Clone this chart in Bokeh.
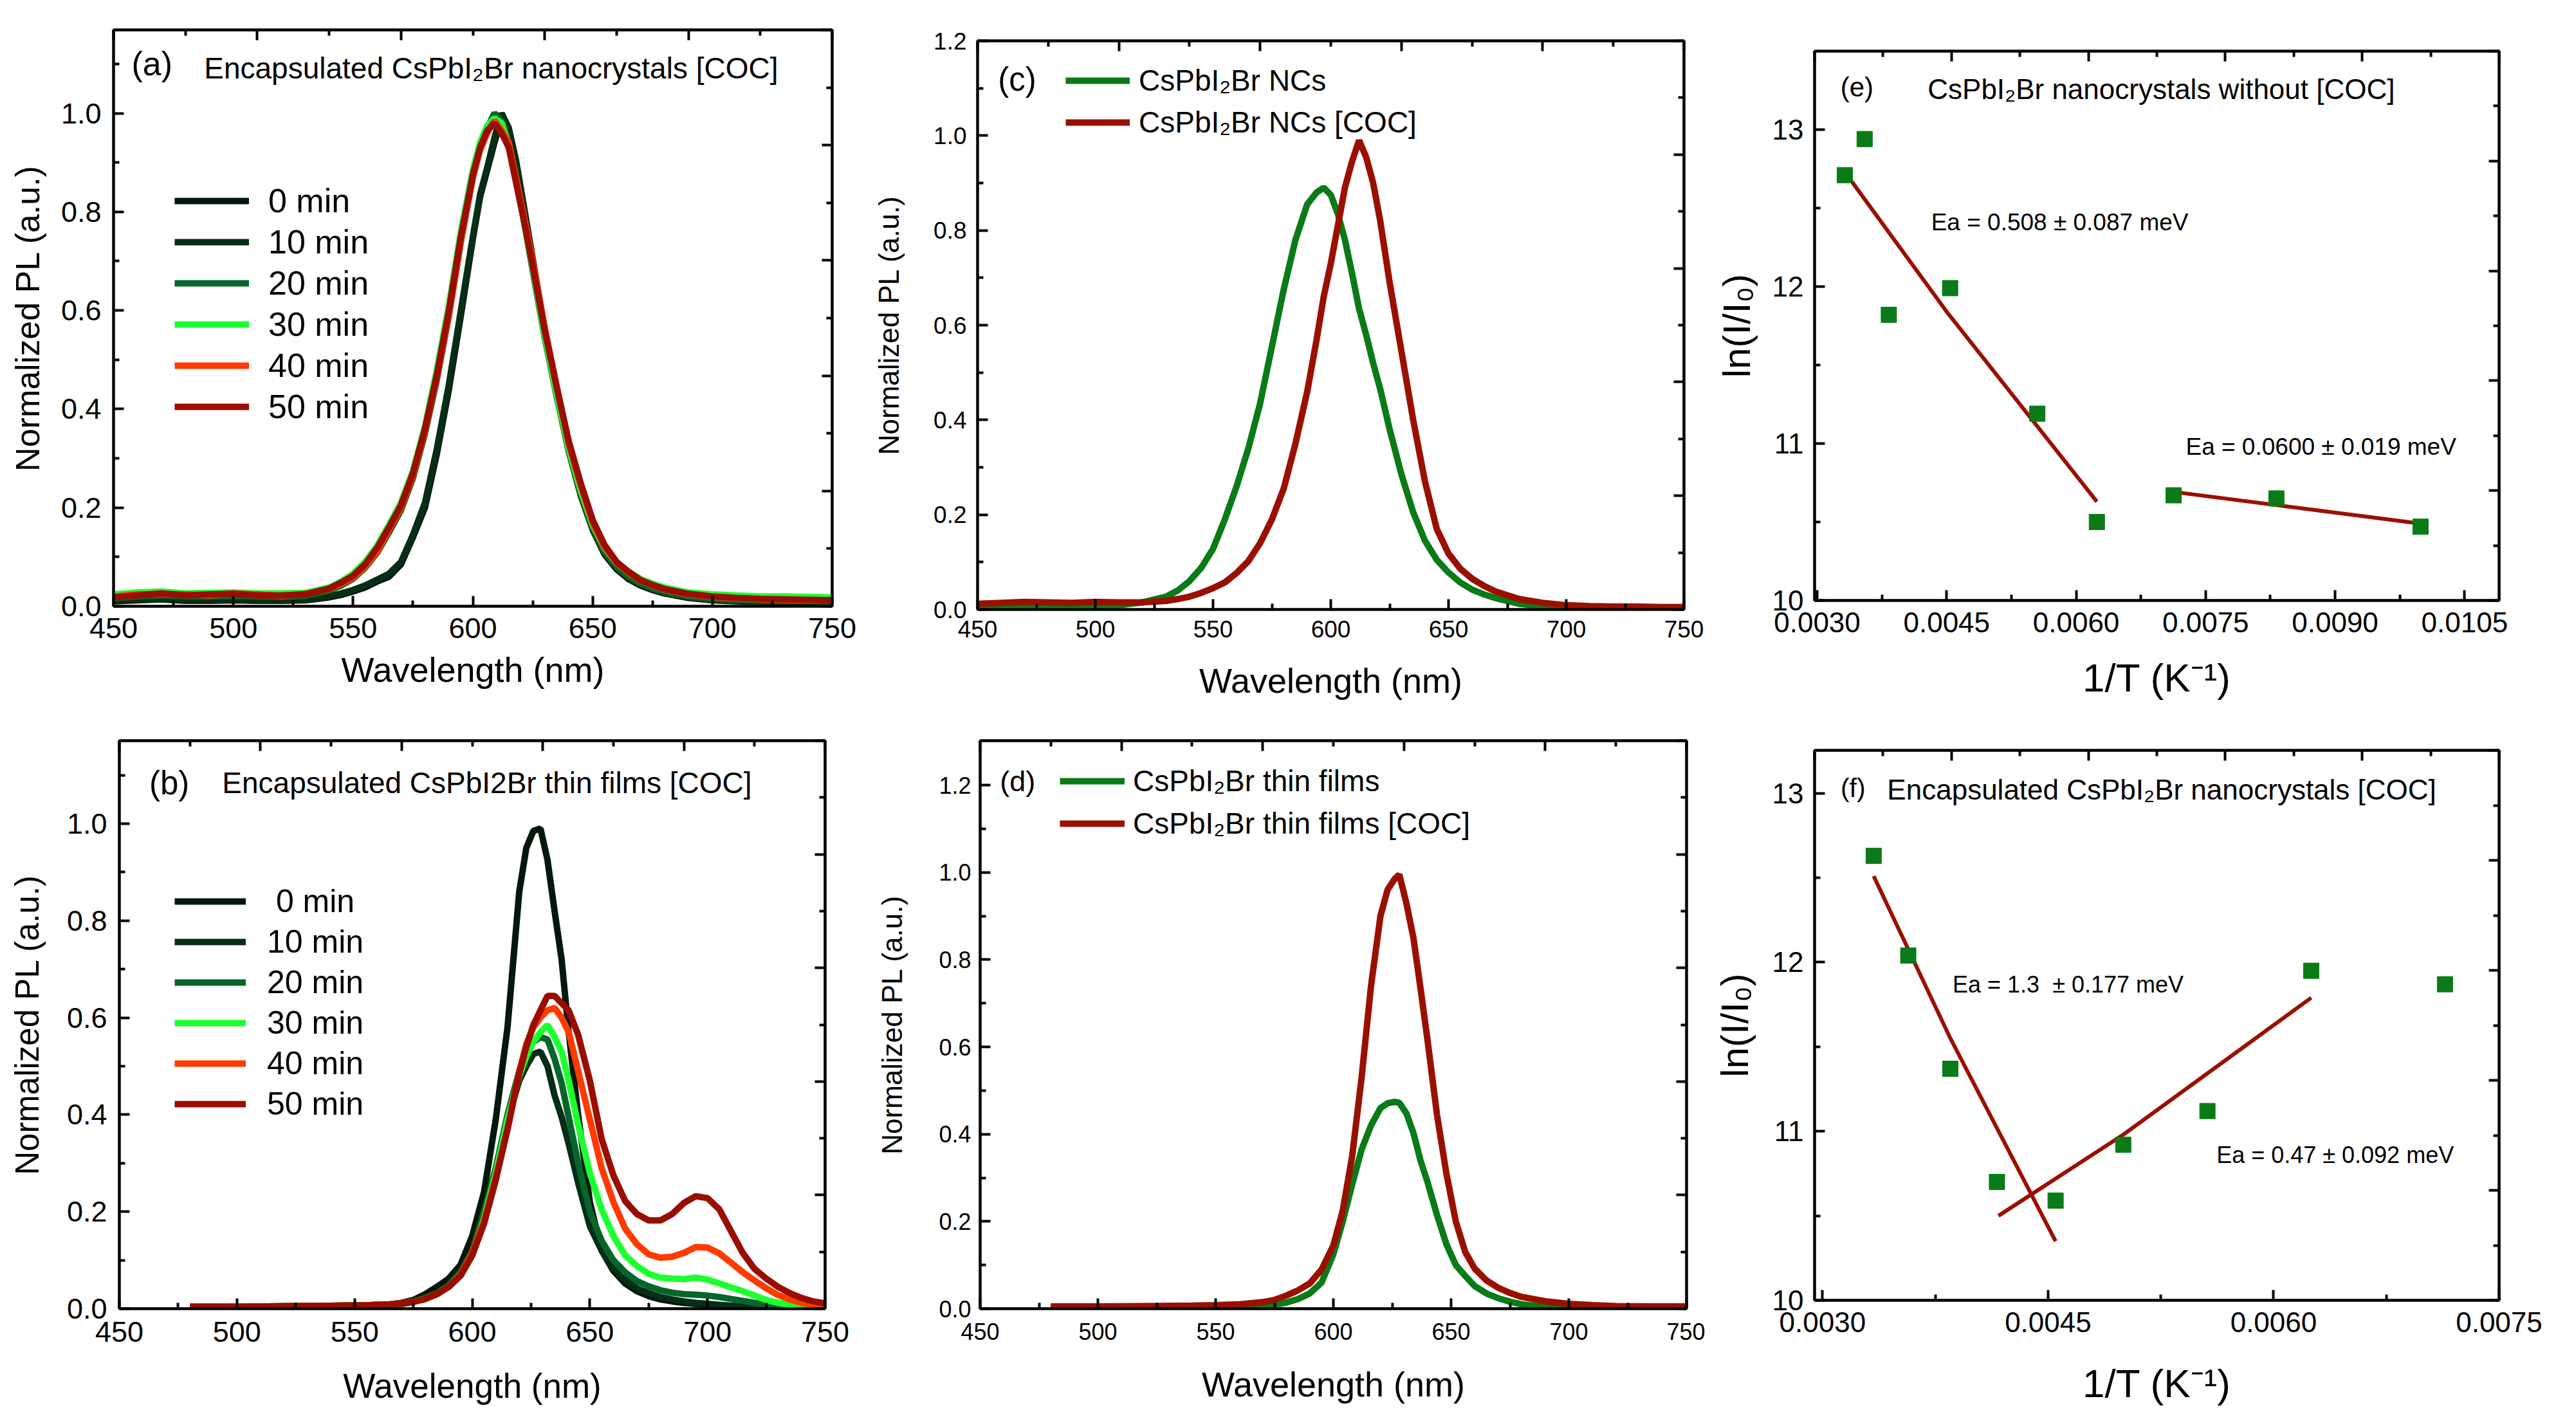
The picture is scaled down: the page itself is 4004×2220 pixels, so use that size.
from bokeh.plotting import figure
from bokeh.models import (Range1d, LinearAxis, FixedTicker, PrintfTickFormatter,
                          CustomJSTickFormatter, Legend, LegendItem, Label)
from bokeh.layouts import row, column
from bokeh.embed import file_html
from bokeh.resources import INLINE

FONT = "Liberation Sans"

# ---------------- data: panel (a) ----------------
wl_a = [450, 460, 470, 480, 490, 500, 510, 520, 530, 540, 545, 550, 555, 560, 565, 570, 575,
        580, 585, 590, 595, 600, 603, 606, 609, 612, 615, 618, 621, 625, 630, 635, 640, 645,
        650, 655, 660, 665, 670, 675, 680, 690, 700, 710, 720, 730, 740, 750]
a_0 = [0.010, 0.012, 0.014, 0.011, 0.011, 0.012, 0.011, 0.011, 0.012, 0.018, 0.023, 0.030, 0.038,
       0.050, 0.060, 0.085, 0.140, 0.200, 0.310, 0.440, 0.590, 0.745, 0.830, 0.885, 0.940, 0.990,
       0.965, 0.900, 0.815, 0.700, 0.555, 0.430, 0.315, 0.225, 0.155, 0.105, 0.075, 0.055, 0.042,
       0.033, 0.026, 0.017, 0.012, 0.010, 0.009, 0.008, 0.008, 0.008]
a_10 = [0.012, 0.014, 0.015, 0.013, 0.013, 0.014, 0.013, 0.012, 0.014, 0.020, 0.026, 0.033, 0.042,
        0.054, 0.066, 0.090, 0.145, 0.210, 0.320, 0.450, 0.600, 0.750, 0.835, 0.890, 0.950, 1.000,
        0.970, 0.905, 0.820, 0.705, 0.560, 0.435, 0.320, 0.230, 0.160, 0.108, 0.078, 0.057, 0.044,
        0.035, 0.028, 0.018, 0.013, 0.011, 0.010, 0.009, 0.009, 0.009]
a_20 = [0.016, 0.020, 0.022, 0.020, 0.020, 0.021, 0.020, 0.019, 0.021, 0.032, 0.042, 0.056, 0.078,
        0.108, 0.150, 0.195, 0.260, 0.350, 0.460, 0.590, 0.740, 0.870, 0.930, 0.970, 1.000, 0.985,
        0.940, 0.870, 0.790, 0.680, 0.545, 0.425, 0.315, 0.228, 0.158, 0.110, 0.080, 0.060, 0.046,
        0.036, 0.029, 0.020, 0.015, 0.013, 0.012, 0.011, 0.011, 0.010]
a_30 = [0.024, 0.028, 0.030, 0.026, 0.027, 0.028, 0.026, 0.026, 0.027, 0.038, 0.050, 0.066, 0.090,
        0.122, 0.165, 0.210, 0.275, 0.365, 0.480, 0.610, 0.760, 0.885, 0.940, 0.975, 0.990, 0.980,
        0.935, 0.865, 0.790, 0.685, 0.550, 0.430, 0.320, 0.235, 0.165, 0.118, 0.088, 0.070, 0.055,
        0.046, 0.038, 0.028, 0.024, 0.022, 0.020, 0.020, 0.019, 0.018]
a_40 = [0.020, 0.024, 0.025, 0.024, 0.022, 0.026, 0.024, 0.021, 0.025, 0.035, 0.045, 0.058, 0.080,
        0.110, 0.155, 0.200, 0.265, 0.355, 0.465, 0.590, 0.740, 0.870, 0.925, 0.960, 0.985, 0.965,
        0.940, 0.870, 0.800, 0.700, 0.565, 0.445, 0.330, 0.245, 0.170, 0.120, 0.088, 0.068, 0.052,
        0.042, 0.034, 0.024, 0.019, 0.016, 0.014, 0.013, 0.012, 0.012]
a_50 = [0.018, 0.022, 0.026, 0.022, 0.024, 0.025, 0.022, 0.022, 0.024, 0.036, 0.048, 0.062, 0.085,
        0.118, 0.160, 0.205, 0.270, 0.360, 0.470, 0.600, 0.750, 0.875, 0.930, 0.965, 0.980, 0.960,
        0.930, 0.860, 0.790, 0.690, 0.560, 0.445, 0.335, 0.250, 0.175, 0.124, 0.090, 0.070, 0.053,
        0.043, 0.035, 0.025, 0.020, 0.017, 0.015, 0.014, 0.013, 0.012]

# ---------------- data: panel (b) ----------------
wl_b = [480, 500, 520, 540, 555, 565, 570, 575, 580, 585, 590, 595, 600, 605, 610, 615, 620,
        623, 626, 629, 632, 635, 638, 641, 645, 650, 655, 660, 665, 670, 675, 680, 685, 690,
        695, 700, 705, 710, 715, 720, 725, 730, 735, 740, 745, 750]
b_0 = [0.004, 0.004, 0.005, 0.006, 0.007, 0.009, 0.012, 0.018, 0.030, 0.045, 0.062, 0.090, 0.150,
       0.240, 0.390, 0.580, 0.860, 0.950, 0.985, 0.990, 0.925, 0.820, 0.720, 0.570, 0.400, 0.220,
       0.120, 0.078, 0.052, 0.036, 0.026, 0.019, 0.015, 0.012, 0.010, 0.008, 0.007, 0.006, 0.005,
       0.005, 0.004, 0.004, 0.004, 0.003, 0.003, 0.003]
b_10 = [0.004, 0.004, 0.005, 0.005, 0.006, 0.008, 0.010, 0.014, 0.022, 0.032, 0.045, 0.068, 0.110,
        0.180, 0.280, 0.390, 0.470, 0.500, 0.525, 0.530, 0.500, 0.440, 0.395, 0.340, 0.260, 0.170,
        0.120, 0.083, 0.060, 0.042, 0.032, 0.024, 0.019, 0.015, 0.012, 0.010, 0.008, 0.006, 0.005,
        0.005, 0.004, 0.004, 0.003, 0.003, 0.003, 0.003]
b_20 = [0.004, 0.004, 0.005, 0.006, 0.007, 0.009, 0.011, 0.015, 0.022, 0.032, 0.048, 0.075, 0.118,
        0.200, 0.290, 0.400, 0.490, 0.525, 0.550, 0.560, 0.555, 0.515, 0.465, 0.395, 0.300, 0.200,
        0.140, 0.100, 0.075, 0.057, 0.046, 0.038, 0.033, 0.030, 0.029, 0.027, 0.024, 0.020, 0.016,
        0.012, 0.009, 0.006, 0.004, 0.003, 0.002, 0.002]
b_30 = [0.004, 0.004, 0.005, 0.006, 0.007, 0.009, 0.011, 0.014, 0.020, 0.030, 0.045, 0.070, 0.110,
        0.185, 0.280, 0.390, 0.480, 0.520, 0.550, 0.570, 0.585, 0.560, 0.530, 0.470, 0.380, 0.280,
        0.205, 0.150, 0.110, 0.088, 0.072, 0.064, 0.062, 0.061, 0.064, 0.060, 0.052, 0.044, 0.036,
        0.027, 0.018, 0.012, 0.008, 0.005, 0.004, 0.003]
b_40 = [0.004, 0.004, 0.005, 0.006, 0.007, 0.009, 0.011, 0.014, 0.020, 0.030, 0.045, 0.070, 0.115,
        0.180, 0.270, 0.370, 0.490, 0.545, 0.580, 0.600, 0.615, 0.620, 0.600, 0.570, 0.490, 0.390,
        0.290, 0.220, 0.165, 0.133, 0.112, 0.105, 0.107, 0.115, 0.127, 0.126, 0.114, 0.095, 0.075,
        0.058, 0.042, 0.028, 0.019, 0.012, 0.008, 0.006]
b_50 = [0.004, 0.004, 0.005, 0.006, 0.007, 0.009, 0.011, 0.014, 0.020, 0.030, 0.045, 0.068, 0.110,
        0.175, 0.265, 0.370, 0.485, 0.540, 0.585, 0.615, 0.645, 0.645, 0.630, 0.615, 0.565, 0.470,
        0.350, 0.275, 0.222, 0.195, 0.182, 0.182, 0.195, 0.218, 0.232, 0.228, 0.205, 0.160, 0.115,
        0.082, 0.062, 0.045, 0.032, 0.022, 0.015, 0.011]

# ---------------- data: panel (c) ----------------
wl_c = [450, 460, 470, 480, 490, 500, 510, 520, 530, 535, 540, 545, 550, 555, 560, 565, 570, 575,
        580, 585, 590, 594, 597, 600, 603, 606, 609, 612, 615, 618, 621, 625, 630, 635, 640, 645,
        650, 655, 660, 665, 670, 680, 690, 700, 710, 720, 730, 740, 750]
c_nc = [0.004, 0.005, 0.005, 0.005, 0.005, 0.006, 0.009, 0.015, 0.027, 0.040, 0.060, 0.088, 0.128,
        0.190, 0.260, 0.340, 0.435, 0.555, 0.675, 0.780, 0.855, 0.880, 0.890, 0.875, 0.835, 0.780,
        0.710, 0.635, 0.580, 0.520, 0.465, 0.380, 0.285, 0.205, 0.145, 0.105, 0.078, 0.057, 0.042,
        0.032, 0.024, 0.012, 0.007, 0.004, 0.003, 0.002, 0.002, 0.002, 0.002]
c_coc = [0.012, 0.014, 0.016, 0.015, 0.014, 0.016, 0.015, 0.015, 0.018, 0.022, 0.027, 0.035, 0.045,
         0.057, 0.077, 0.102, 0.140, 0.190, 0.255, 0.350, 0.460, 0.570, 0.660, 0.730, 0.810, 0.890,
         0.945, 0.990, 0.955, 0.900, 0.820, 0.690, 0.545, 0.400, 0.270, 0.170, 0.118, 0.086, 0.065,
         0.050, 0.038, 0.022, 0.014, 0.009, 0.007, 0.006, 0.006, 0.005, 0.005]

# ---------------- data: panel (d) ----------------
wl_d = [480, 500, 520, 540, 550, 560, 570, 575, 580, 585, 590, 595, 600, 604, 608, 612, 616, 620,
        623, 626, 628, 631, 634, 637, 640, 644, 648, 652, 656, 660, 665, 670, 675, 680, 690, 700,
        710, 720, 735, 750]
d_tf = [0.001, 0.001, 0.001, 0.002, 0.002, 0.003, 0.006, 0.009, 0.014, 0.022, 0.035, 0.060, 0.125,
        0.200, 0.285, 0.365, 0.420, 0.460, 0.471, 0.474, 0.472, 0.448, 0.403, 0.340, 0.290, 0.215,
        0.148, 0.100, 0.075, 0.052, 0.035, 0.024, 0.016, 0.010, 0.004, 0.002, 0.001, 0.001, 0.001,
        0.001]
d_coc = [0.005, 0.005, 0.006, 0.007, 0.008, 0.010, 0.015, 0.020, 0.030, 0.042, 0.058, 0.090, 0.145,
         0.225, 0.350, 0.530, 0.740, 0.900, 0.960, 0.985, 0.995, 0.930, 0.850, 0.735, 0.615, 0.445,
         0.310, 0.200, 0.130, 0.092, 0.065, 0.048, 0.036, 0.027, 0.017, 0.011, 0.008, 0.006, 0.005,
         0.005]

# ---------------- data: panel (e) ----------------
e_x = [0.00332, 0.00355, 0.00383, 0.00454, 0.00555, 0.00624, 0.00713, 0.00832, 0.00999]
e_y = [12.71, 12.94, 11.82, 11.99, 11.19, 10.50, 10.67, 10.65, 10.47]
e_fit1_x = [0.00332, 0.00450, 0.00624]
e_fit1_y = [12.73, 11.84, 10.63]
e_fit2_x = [0.00715, 0.00999]
e_fit2_y = [10.69, 10.49]

# ---------------- data: panel (f) ----------------
f_x = [0.00334, 0.00357, 0.00385, 0.00416, 0.00455, 0.00500, 0.00556, 0.00625, 0.00714]
f_y = [12.63, 12.04, 11.37, 10.70, 10.59, 10.92, 11.12, 11.95, 11.87]
f_fit1_x = [0.00334, 0.00385, 0.00455]
f_fit1_y = [12.51, 11.55, 10.35]
f_fit2_x = [0.00417, 0.00500, 0.00625]
f_fit2_y = [10.50, 10.98, 11.79]

time_labels = ["0 min", "10 min", "20 min", "30 min", "40 min", "50 min"]
time_labels_b = ["\u00a00 min", "10 min", "20 min", "30 min", "40 min", "50 min"]
time_colors = ["#03180c", "#062d16", "#06662a", "#1eff30", "#ff3a00", "#990e00"]
GREEN = "#0b7a18"
RED = "#9a1000"

spec_xticks = [450, 500, 550, 600, 650, 700, 750]
spec_xminor = [475, 525, 575, 625, 675, 725]
OPP_MAJOR = [0, 0.2, 0.4, 0.6, 0.8, 1.0]
OPP_MINOR = [0.1, 0.3, 0.5, 0.7, 0.9]
LW = 10


def style_axis(ax, size, standoff):
    ax.axis_line_width = 4
    ax.axis_line_color = "black"
    ax.major_tick_in = 16
    ax.major_tick_out = 0
    ax.minor_tick_in = 9
    ax.minor_tick_out = 0
    ax.major_tick_line_width = 4
    ax.minor_tick_line_width = 4
    ax.major_tick_line_color = "black"
    ax.minor_tick_line_color = "black"
    ax.major_label_text_font = FONT
    ax.major_label_text_font_size = f"{size}px"
    ax.major_label_text_color = "black"
    ax.major_label_standoff = standoff
    ax.axis_label_text_font = FONT
    ax.axis_label_text_font_style = "normal"
    ax.axis_label_text_color = "black"


def add_label(p, x, y, text, size, align="left"):
    p.add_layout(Label(x=x, y=y, text=text, text_font=FONT, text_font_size=f"{size}px",
                       text_color="black", text_baseline="middle", text_align=align))


def make_fig(w, h, borders, xr, yr, xt, xm, yt, ym, xfmt, yfmt, tsize,
             xlabel, ylabel, xlsize, ylsize, xstand, ystand):
    l, r, t, b = borders
    p = figure(width=w, height=h, x_range=Range1d(*xr), y_range=Range1d(*yr),
               output_backend="svg", toolbar_location=None, frame_align=False,
               min_border_left=l, min_border_right=r, min_border_top=t, min_border_bottom=b)
    p.xgrid.visible = False
    p.ygrid.visible = False
    p.outline_line_color = "black"
    p.outline_line_width = 4
    p.outline_line_alpha = 1
    xa = p.xaxis[0]
    ya = p.yaxis[0]
    xa.ticker = FixedTicker(ticks=xt, minor_ticks=xm)
    ya.ticker = FixedTicker(ticks=yt, minor_ticks=ym)
    xa.formatter = xfmt
    ya.formatter = yfmt
    style_axis(xa, tsize, xstand[0])
    style_axis(ya, tsize, ystand[0])
    xa.axis_label = xlabel
    ya.axis_label = ylabel
    xa.axis_label_text_font_size = f"{xlsize}px"
    ya.axis_label_text_font_size = f"{ylsize}px"
    xa.axis_label_standoff = xstand[1]
    ya.axis_label_standoff = ystand[1]
    p.extra_x_ranges = {"opp": Range1d(0, 1)}
    p.extra_y_ranges = {"opp": Range1d(0, 1)}
    top = LinearAxis(x_range_name="opp",
                     ticker=FixedTicker(ticks=OPP_MAJOR, minor_ticks=OPP_MINOR),
                     formatter=CustomJSTickFormatter(code="return ''"))
    right = LinearAxis(y_range_name="opp",
                       ticker=FixedTicker(ticks=OPP_MAJOR, minor_ticks=OPP_MINOR),
                       formatter=CustomJSTickFormatter(code="return ''"))
    for ax in (top, right):
        style_axis(ax, 1, 0)
    p.add_layout(top, "above")
    p.add_layout(right, "right")
    return p


def add_legend(p, items, loc, size, gw, standoff, row_h, spacing):
    lg = Legend(items=items, location=loc, border_line_alpha=0, background_fill_alpha=0,
                label_text_font=FONT, label_text_font_size=f"{size}px", label_text_color="black",
                glyph_width=gw, glyph_height=row_h, label_height=row_h, spacing=spacing,
                padding=0, margin=0, label_standoff=standoff)
    p.add_layout(lg)


WL = "Wavelength (nm)"
NPL = "Normalized PL (a.u.)"
INV_T = "1/T (K\u207b\u00b9)"
LN = "ln(I/I\u2080)"

# ---------------- (a) ----------------
pa = make_fig(1340, 1100, (176, 47, 46, 158), (450, 750), (0, 1.169),
              spec_xticks, spec_xminor, [0, 0.2, 0.4, 0.6, 0.8, 1.0], [0.1, 0.3, 0.5, 0.7, 0.9, 1.1],
              PrintfTickFormatter(format="%d"), PrintfTickFormatter(format="%.1f"), 45,
              WL, NPL, 54, 52, (18, 16), (19, 20))
items = []
for ys, lab, col in zip([a_0, a_10, a_20, a_30, a_40, a_50], time_labels, time_colors):
    r = pa.line(wl_a, ys, line_color=col, line_width=LW)
    items.append(LegendItem(label=lab, renderers=[r]))
add_legend(pa, items, (95, 280), 52, 116, 30, 60, 4)
add_label(pa, 457.5, 1.101, "(a)", 52)
add_label(pa, 487.8, 1.092, "Encapsulated CsPbI\u2082Br nanocrystals [COC]", 46)

# ---------------- (b) ----------------
pb = make_fig(1340, 1112, (185, 58, 51, 178), (450, 750), (0, 1.171),
              spec_xticks, spec_xminor, [0, 0.2, 0.4, 0.6, 0.8, 1.0], [0.1, 0.3, 0.5, 0.7, 0.9, 1.1],
              PrintfTickFormatter(format="%d"), PrintfTickFormatter(format="%.1f"), 45,
              WL, NPL, 53, 51, (20, 36), (19, 30))
items = []
for ys, lab, col in zip([b_0, b_10, b_20, b_30, b_40, b_50], time_labels_b, time_colors):
    r = pb.line(wl_b, ys, line_color=col, line_width=LW)
    items.append(LegendItem(label=lab, renderers=[r]))
add_legend(pb, items, (86, 288), 50, 111, 33, 60, 3)
add_label(pb, 462.7, 1.084, "(b)", 51)
add_label(pb, 493.7, 1.084, "Encapsulated CsPbI2Br thin films [COC]", 46)

# ---------------- (c) ----------------
pc = make_fig(1310, 1100, (179, 33, 63, 153), (450, 750), (0, 1.2),
              spec_xticks, spec_xminor, [0, 0.2, 0.4, 0.6, 0.8, 1.0, 1.2],
              [0.1, 0.3, 0.5, 0.7, 0.9, 1.1],
              PrintfTickFormatter(format="%d"), PrintfTickFormatter(format="%.1f"), 37,
              WL, NPL, 54, 44, (17, 34), (17, 42))
r1 = pc.line(wl_c, c_nc, line_color=GREEN, line_width=LW)
r2 = pc.line(wl_c, c_coc, line_color=RED, line_width=LW)
add_legend(pc, [LegendItem(label="CsPbI\u2082Br NCs", renderers=[r1]),
                LegendItem(label="CsPbI\u2082Br NCs [COC]", renderers=[r2])],
           (137, 727), 46, 100, 14, 60, 5)
add_label(pc, 458.7, 1.118, "(c)", 51)

# ---------------- (d) ----------------
pd = make_fig(1310, 1112, (183, 29, 51, 178), (450, 750), (0, 1.302),
              spec_xticks, spec_xminor, [0, 0.2, 0.4, 0.6, 0.8, 1.0, 1.2],
              [0.1, 0.3, 0.5, 0.7, 0.9, 1.1],
              PrintfTickFormatter(format="%d"), PrintfTickFormatter(format="%.1f"), 36,
              WL, NPL, 54, 44, (22, 36), (14, 45))
r1 = pd.line(wl_d, d_tf, line_color=GREEN, line_width=LW)
r2 = pd.line(wl_d, d_coc, line_color=RED, line_width=LW)
add_legend(pd, [LegendItem(label="CsPbI\u2082Br thin films", renderers=[r1]),
                LegendItem(label="CsPbI\u2082Br thin films [COC]", renderers=[r2])],
           (124, 724), 46, 101, 13, 60, 6)
add_label(pd, 458.4, 1.209, "(d)", 45)

# ---------------- (e) ----------------
pe = make_fig(1346, 1100, (170, 112, 79, 167), (0.00297, 0.0109), (10, 13.5),
              [0.003, 0.0045, 0.006, 0.0075, 0.009, 0.0105],
              [0.00375, 0.00525, 0.00675, 0.00825, 0.00975],
              [10, 11, 12, 13], [10.5, 11.5, 12.5],
              PrintfTickFormatter(format="%.4f"), PrintfTickFormatter(format="%d"), 44,
              INV_T, LN, 62, 60, (18, 33), (17, 19))
pe.line(e_fit1_x, e_fit1_y, line_color=RED, line_width=6)
pe.line(e_fit2_x, e_fit2_y, line_color=RED, line_width=6)
pe.scatter(e_x, e_y, marker="square", size=24, color=GREEN)
add_label(pe, 0.00327, 13.27, "(e)", 42)
add_label(pe, 0.00428, 13.26, "CsPbI\u2082Br nanocrystals without [COC]", 44)
add_label(pe, 0.00432, 12.41, "Ea = 0.508 \u00b1 0.087 meV", 37)
add_label(pe, 0.00727, 10.98, "Ea = 0.0600 \u00b1 0.019 meV", 37)

# ---------------- (f) ----------------
pf = make_fig(1346, 1112, (170, 112, 66, 191), (0.002947, 0.0075), (10, 13.254),
              [0.003, 0.0045, 0.006, 0.0075], [0.00375, 0.00525, 0.00675],
              [10, 11, 12, 13], [10.5, 11.5, 12.5],
              PrintfTickFormatter(format="%.4f"), PrintfTickFormatter(format="%d"), 44,
              INV_T, LN, 62, 60, (18, 42), (17, 22))
pf.line(f_fit1_x, f_fit1_y, line_color=RED, line_width=6)
pf.line(f_fit2_x, f_fit2_y, line_color=RED, line_width=6)
pf.scatter(f_x, f_y, marker="square", size=24, color=GREEN)
add_label(pf, 0.00312, 13.03, "(f)", 41)
add_label(pf, 0.00343, 13.02, "Encapsulated CsPbI\u2082Br nanocrystals [COC]", 44)
add_label(pf, 0.003865, 11.87, "Ea = 1.3 \u00a0\u00b1 0.177 meV", 36)
add_label(pf, 0.00562, 10.86, "Ea = 0.47 \u00b1 0.092 meV", 36)

layout = column(row(pa, pc, pe), row(pb, pd, pf))
open("out.html", "w").write(file_html(layout, INLINE))
